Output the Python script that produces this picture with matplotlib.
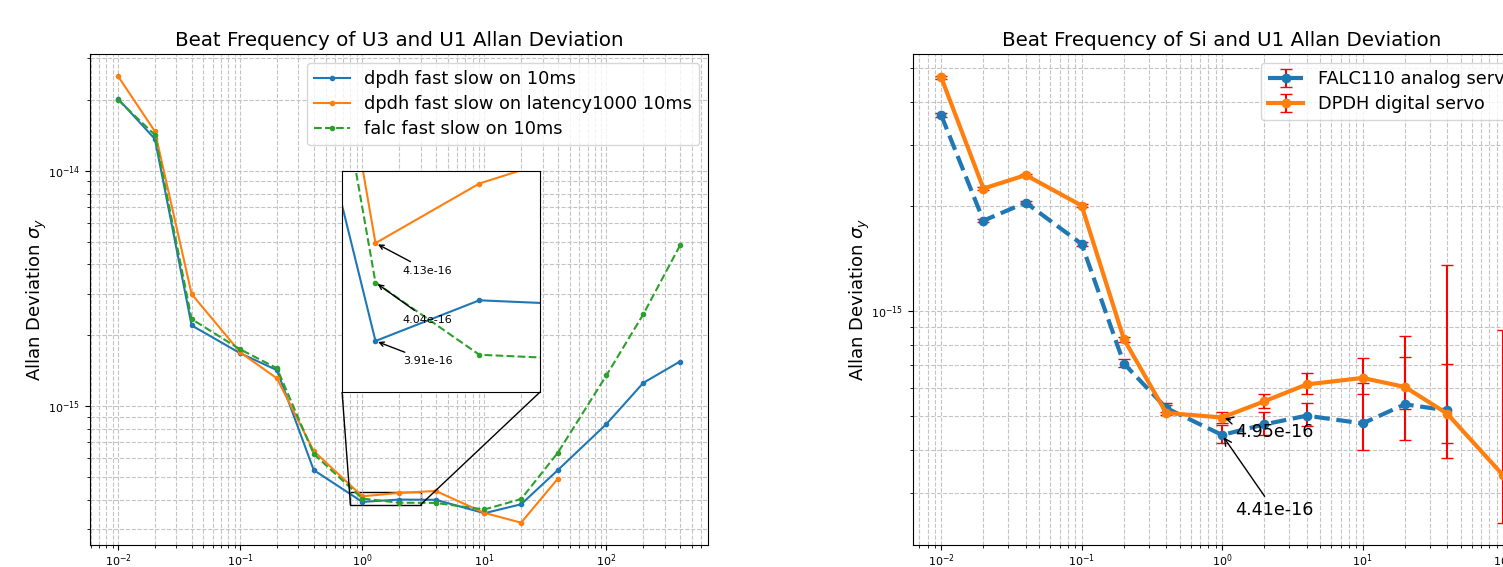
import numpy as np
import matplotlib.pyplot as plt
from mpl_toolkits.axes_grid1.inset_locator import mark_inset
plt.switch_backend('agg')

# averaging times (s)
tau = [0.01, 0.02, 0.04, 0.1, 0.2, 0.4, 1, 2, 4, 10, 20, 40, 100, 200, 400]

# U3 vs U1 beat, Allan deviation
dpdh_10ms = [2.02e-14, 1.365e-14, 2.20e-15, 1.675e-15, 1.42e-15, 5.34e-16, 3.91e-16, 4.0e-16,
             3.99e-16, 3.50e-16, 3.82e-16, 5.34e-16, 8.38e-16, 1.253e-15, 1.545e-15]
dpdh_latency = [2.52e-14, 1.47e-14, 2.99e-15, 1.69e-15, 1.31e-15, 6.43e-16, 4.13e-16, 4.27e-16,
                4.35e-16, 3.51e-16, 3.19e-16, 4.91e-16]
falc_10ms = [2.0e-14, 1.42e-14, 2.34e-15, 1.74e-15, 1.446e-15, 6.25e-16, 4.04e-16, 3.88e-16,
             3.87e-16, 3.63e-16, 4.02e-16, 6.33e-16, 1.35e-15, 2.45e-15, 4.81e-15]
labels_u3 = ['dpdh fast slow on 10ms', 'dpdh fast slow on latency1000 10ms', 'falc fast slow on 10ms']

# Si vs U1 beat, Allan deviation with confidence bounds
tau_si = [0.01, 0.02, 0.04, 0.1, 0.2, 0.4, 1, 2, 4, 10, 20, 40, 100]
falc110 = [3.66e-15, 1.82e-15, 2.05e-15, 1.56e-15, 7.07e-16, 5.27e-16, 4.41e-16, 4.73e-16,
           5.01e-16, 4.76e-16, 5.40e-16, 5.19e-16]
falc110_lo = [3.62e-15, 1.80e-15, 2.03e-15, 1.54e-15, 6.92e-16, 5.13e-16, 4.17e-16, 4.40e-16,
              4.67e-16, 3.99e-16, 4.26e-16, 3.79e-16]
falc110_hi = [3.70e-15, 1.84e-15, 2.07e-15, 1.58e-15, 7.28e-16, 5.45e-16, 4.70e-16, 5.13e-16,
              5.44e-16, 6.20e-16, 8.48e-16, 1.356e-15]
dpdh = [4.70e-15, 2.25e-15, 2.46e-15, 2.01e-15, 8.31e-16, 5.10e-16, 4.95e-16, 5.51e-16,
        6.16e-16, 6.43e-16, 6.06e-16, 5.08e-16, 3.38e-16]
dpdh_lo = [4.65e-15, 2.23e-15, 2.44e-15, 1.99e-15, 8.16e-16, 5.03e-16, 4.76e-16, 5.27e-16,
           5.77e-16, 5.80e-16, 5.25e-16, 4.17e-16, 2.47e-16]
dpdh_hi = [4.75e-15, 2.27e-15, 2.48e-15, 2.03e-15, 8.44e-16, 5.37e-16, 5.12e-16, 5.80e-16,
           6.65e-16, 7.34e-16, 7.39e-16, 7.03e-16, 8.84e-16]

fig = plt.figure(figsize=(15.03, 5.67), dpi=100)
ax1 = fig.add_axes([0.0599, 0.0388, 0.4112, 0.866])
ax2 = fig.add_axes([0.6075, 0.0388, 0.4112, 0.866])

# ---- left: U3 and U1
ax1.plot(tau, dpdh_10ms, '.-', label=labels_u3[0])
ax1.plot(tau[:len(dpdh_latency)], dpdh_latency, '.-', label=labels_u3[1])
ax1.plot(tau, falc_10ms, '.--', label=labels_u3[2])
ax1.set_xscale('log')
ax1.set_yscale('log')
ax1.grid(True, which='both', ls='--', color='#c4c4c4')
ax1.set_title('Beat Frequency of U3 and U1 Allan Deviation', fontsize=14.3)
ax1.set_ylabel(r'Allan Deviation $\sigma_y$', fontsize=13)
ax1.yaxis.set_label_coords(-0.0663, 0.5)
ax1.tick_params(labelsize=8)
ax1.tick_params(axis='x', which='both', pad=2)
ax1.legend(loc='upper right', fontsize=12.8, labelspacing=0.4)

axins = ax1.inset_axes([0.4078, 0.3116, 0.3204, 0.450])
axins.plot(tau, dpdh_10ms, '.-')
axins.plot(tau[:len(dpdh_latency)], dpdh_latency, '.-')
axins.plot(tau, falc_10ms, '.--')
axins.set_xscale('log')
axins.set_yscale('log')
axins.set_xlim(0.8, 3)
axins.set_ylim(3.8e-16, 4.3e-16)
axins.set_xticks([], minor=True)
axins.set_xticks([])
axins.set_yticks([], minor=True)
axins.set_yticks([])
i1 = tau.index(1)
axins.annotate('%.2e' % dpdh_latency[i1], xy=(1, dpdh_latency[i1]), xytext=(1.2, 4.06e-16),
               fontsize=8, arrowprops=dict(arrowstyle='->'))
axins.annotate('%.2e' % falc_10ms[i1], xy=(1, falc_10ms[i1]), xytext=(1.2, 3.95e-16),
               fontsize=8, arrowprops=dict(arrowstyle='->'))
axins.annotate('%.2e' % dpdh_10ms[i1], xy=(1, dpdh_10ms[i1]), xytext=(1.2, 3.86e-16),
               fontsize=8, arrowprops=dict(arrowstyle='->'))
mark_inset(ax1, axins, loc1=3, loc2=4, fc='none', ec='0')

# ---- right: Si and U1
n = len(falc110)
falc_err = [np.array(falc110) - np.array(falc110_lo), np.array(falc110_hi) - np.array(falc110)]
dpdh_err = [np.array(dpdh) - np.array(dpdh_lo), np.array(dpdh_hi) - np.array(dpdh)]
ax2.errorbar(tau_si[:n], falc110, yerr=falc_err, fmt='o--', lw=3, ms=6, ecolor='red',
             elinewidth=1.5, capsize=4, label='FALC110 analog servo')
ax2.errorbar(tau_si, dpdh, yerr=dpdh_err, fmt='o-', lw=3, ms=6, ecolor='red',
             elinewidth=1.5, capsize=4, label='DPDH digital servo')
ax2.set_xscale('log')
ax2.set_yscale('log')
ax2.set_xlim(10 ** -2.2, 10 ** 2.2)
ax2.set_ylim(2.13e-16, 5.48e-15)
ax2.grid(True, which='both', ls='--', color='#c4c4c4')
ax2.set_title('Beat Frequency of Si and U1 Allan Deviation', fontsize=14.3)
ax2.set_ylabel(r'Allan Deviation $\sigma_y$', fontsize=13)
ax2.yaxis.set_label_coords(-0.0663, 0.5)
ax2.tick_params(labelsize=8)
ax2.tick_params(axis='x', which='both', pad=2)
j1 = tau_si.index(1)
ax2.annotate('%.2e' % dpdh[j1], xy=(1, dpdh[j1]), xytext=(1.24, 4.34e-16),
             fontsize=12.6, arrowprops=dict(arrowstyle='->'))
ax2.annotate('%.2e' % falc110[j1], xy=(1, falc110[j1]), xytext=(1.24, 2.59e-16),
             fontsize=12.6, arrowprops=dict(arrowstyle='->'))
ax2.legend(loc='upper right', fontsize=12.8, labelspacing=0.4)

fig.savefig('out.png', dpi=100)
